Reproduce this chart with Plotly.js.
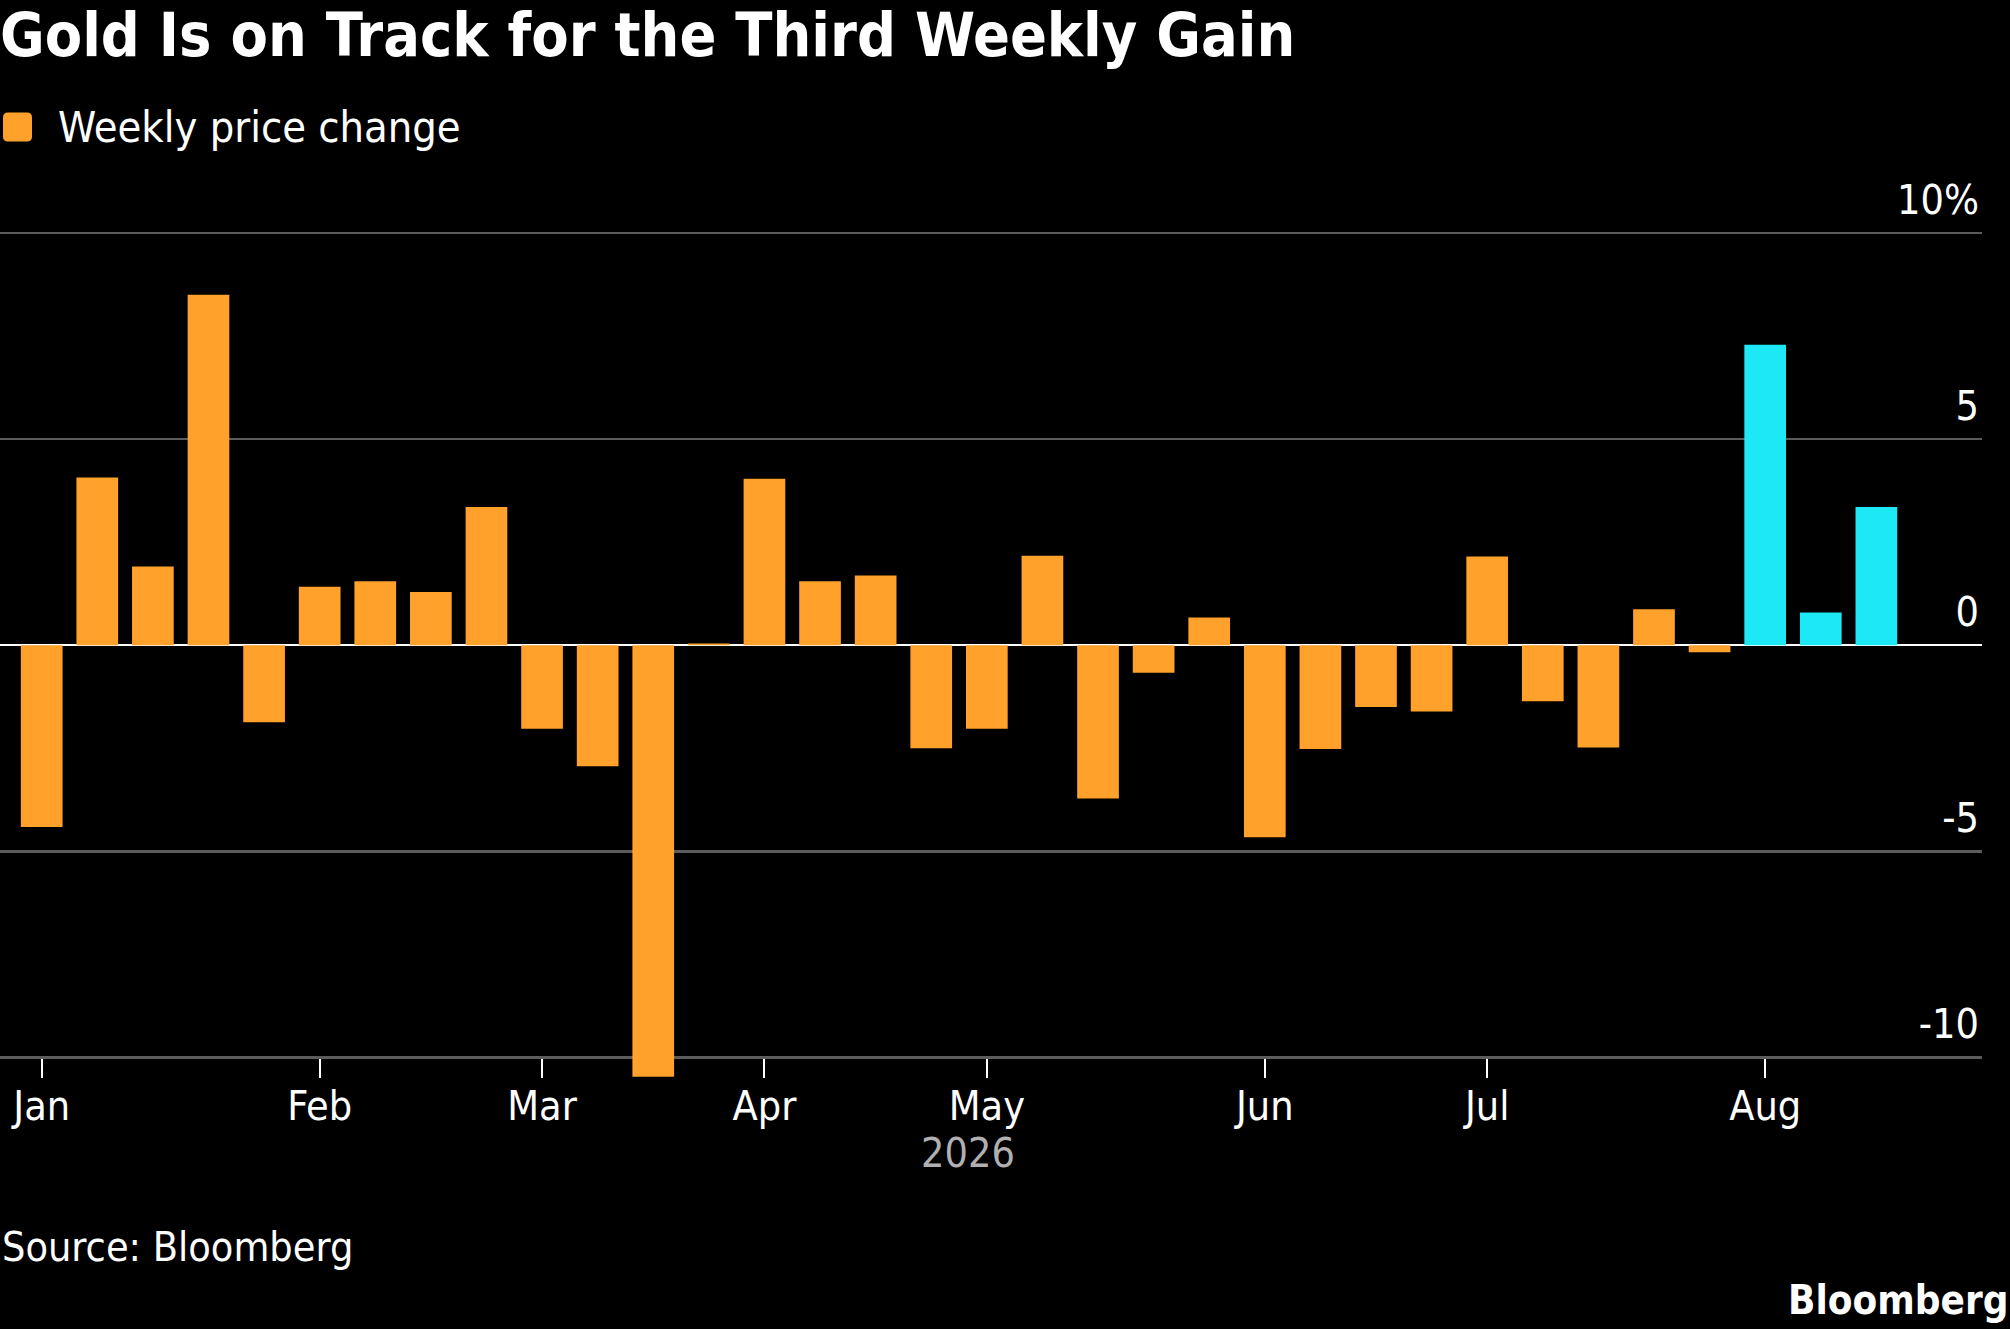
<!DOCTYPE html>
<html>
<head>
<meta charset="utf-8">
<script src="https://cdn.plot.ly/plotly-3.0.1.min.js"></script>
<style>
  html, body { margin: 0; padding: 0; background: #000; }
  #chart { width: 2010px; height: 1329px; }
</style>
</head>
<body>
<div id="chart"></div>
<script>
// Weekly gold price change, week ending Friday
const weeks = [
  '2026-01-02', '2026-01-09', '2026-01-16', '2026-01-23', '2026-01-30',
  '2026-02-06', '2026-02-13', '2026-02-20', '2026-02-27',
  '2026-03-06', '2026-03-13', '2026-03-20', '2026-03-27',
  '2026-04-03', '2026-04-10', '2026-04-17', '2026-04-24',
  '2026-05-01', '2026-05-08', '2026-05-15', '2026-05-22', '2026-05-29',
  '2026-06-05', '2026-06-12', '2026-06-19', '2026-06-26',
  '2026-07-03', '2026-07-10', '2026-07-17', '2026-07-24', '2026-07-31',
  '2026-08-07', '2026-08-14', '2026-08-21'
];
const weeklyChange = [
  -4.41, 4.07, 1.91, 8.50, -1.87,
  1.42, 1.55, 1.29, 3.35,
  -2.03, -2.94, -10.47, 0.04,
  4.04, 1.55, 1.69, -2.50,
  -2.03, 2.17, -3.72, -0.67, 0.67,
  -4.66, -2.52, -1.50, -1.61,
  2.15, -1.36, -2.48, 0.87, -0.17,
  7.29, 0.79, 3.35
];
// the current run of gains
const highlightWeeks = ['2026-08-07', '2026-08-14', '2026-08-21'];

const monthTickWeeks = ['2026-01-02', '2026-02-06', '2026-03-06', '2026-04-03',
  '2026-05-01', '2026-06-05', '2026-07-03', '2026-08-07'];
const monthLabels = ['Jan', 'Feb', 'Mar', 'Apr', 'May', 'Jun', 'Jul', 'Aug'];
const yTicks = [-10, -5, 0, 5, 10];
const yLabels = ['-10', '-5', '0', '5', '10%'];

const seriesName = 'Weekly price change';
const titleText = 'Gold Is on Track for the Third Weekly Gain';
const yearLabel = '2026';
const sourceText = 'Source: Bloomberg';

const ORANGE = '#ffa12a';
const CYAN = '#1de9f6';
const FONT = 'DejaVu Sans Condensed, DejaVu Sans, sans-serif';

// plot box in page pixels
const W = 2010, H = 1329;
const plotTop = 167, plotBottom = 1077.6, plotRight = 1982;
const plotH = plotBottom - plotTop;
const py = y => (plotBottom - y) / plotH;   // page y -> paper y
const px = x => x / plotRight;              // page x -> paper x

const barColors = weeks.map(w => highlightWeeks.includes(w) ? CYAN : ORANGE);

const trace = {
  type: 'bar',
  name: seriesName,
  x: weeks,
  y: weeklyChange,
  marker: { color: barColors, line: { width: 0 } },
  hoverinfo: 'skip',
  showlegend: false,
};

const layout = {
  width: W,
  height: H,
  paper_bgcolor: '#000',
  plot_bgcolor: '#000',
  font: { family: FONT, size: 41, color: '#fff' },
  margin: { l: 0, r: W - plotRight, t: plotTop, b: H - plotBottom },
  bargap: 0.25,
  showlegend: false,
  title: {
    text: titleText,
    font: { family: FONT, size: 60.6, weight: 'bold', color: '#fff' },
    xref: 'container', x: 0, xanchor: 'left',
    yref: 'container', y: 1 - 35 / H, yanchor: 'middle',
    pad: { l: 0, t: 0, r: 0, b: 0 },
  },
  xaxis: {
    type: 'category',
    range: [-0.75, 34.9],
    tickmode: 'array',
    tickvals: monthTickWeeks,
    ticktext: monthLabels,
    ticks: 'inside',
    ticklen: 19,
    tickwidth: 2,
    tickcolor: '#fff',
    showgrid: false,
    showline: false,
    zeroline: false,
    tickfont: { family: FONT, size: 41, color: '#fff' },
    fixedrange: true,
  },
  yaxis: {
    side: 'right',
    range: [-10.5, 11.6],
    tickmode: 'array',
    tickvals: yTicks,
    ticktext: yLabels,
    ticks: '',
    ticklabelposition: 'inside top',
    ticklabelshift: -5,
    showgrid: true,
    gridcolor: '#5c5c5c',
    gridwidth: 2.5,
    zeroline: true,
    zerolinecolor: '#fff',
    zerolinewidth: 2,
    showline: false,
    tickfont: { family: FONT, size: 41, color: '#fff' },
    fixedrange: true,
  },
  shapes: [
    {
      // legend swatch
      type: 'path',
      xref: 'paper', yref: 'paper',
      xsizemode: 'pixel', ysizemode: 'pixel',
      xanchor: px(17.5), yanchor: py(127),
      path: 'M -9.5,-14.5 L 9.5,-14.5 Q 14.5,-14.5 14.5,-9.5 L 14.5,9.5 Q 14.5,14.5 9.5,14.5 ' +
            'L -9.5,14.5 Q -14.5,14.5 -14.5,9.5 L -14.5,-9.5 Q -14.5,-14.5 -9.5,-14.5 Z',
      fillcolor: ORANGE,
      line: { width: 0 },
    },
  ],
  annotations: [
    {
      text: seriesName,
      xref: 'paper', yref: 'paper',
      x: px(56), y: py(127),
      xanchor: 'left', yanchor: 'middle',
      showarrow: false,
      font: { family: FONT, size: 43, color: '#fff' },
    },
    {
      text: yearLabel,
      xref: 'paper', yref: 'paper',
      x: px(968), y: py(1153),
      xanchor: 'center', yanchor: 'middle',
      showarrow: false,
      font: { family: FONT, size: 41, color: '#b0b0b0' },
    },
    {
      text: sourceText,
      xref: 'paper', yref: 'paper',
      x: 0, y: py(1247),
      xanchor: 'left', yanchor: 'middle',
      showarrow: false,
      font: { family: FONT, size: 41, color: '#fff' },
    },
    {
      text: 'Bloomberg',
      xref: 'paper', yref: 'paper',
      x: px(2010), y: py(1300),
      xanchor: 'right', yanchor: 'middle',
      showarrow: false,
      font: { family: FONT, size: 40, weight: 'bold', color: '#fff' },
    },
  ],
};

Plotly.newPlot('chart', [trace], layout, { staticPlot: true, displayModeBar: false });
</script>
</body>
</html>
